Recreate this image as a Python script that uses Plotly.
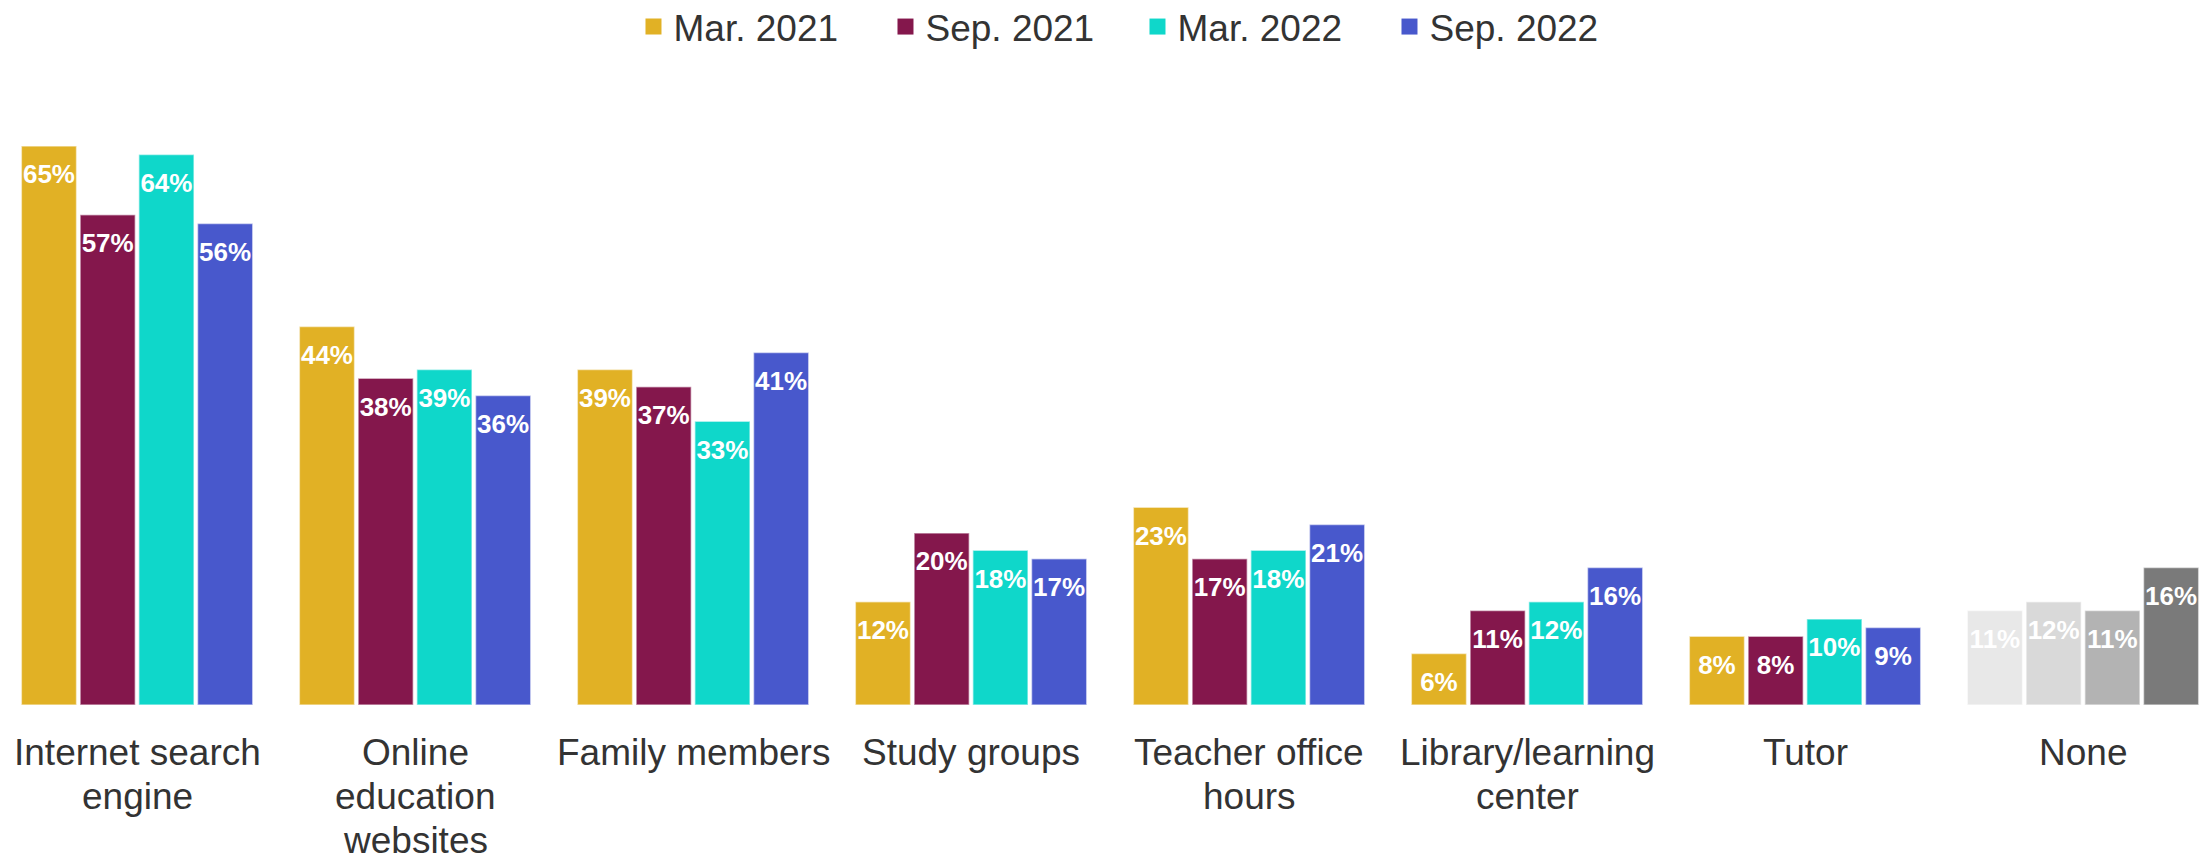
import plotly.graph_objects as go

categories = ["Internet search engine", "Online education websites", "Family members",
              "Study groups", "Teacher office hours", "Library/learning center", "Tutor", "None"]
tick_labels = ["Internet search<br>engine", "Online<br>education<br>websites", "Family members",
               "Study groups", "Teacher office<br>hours", "Library/learning<br>center", "Tutor", "None"]
series_names = ["Mar. 2021", "Sep. 2021", "Mar. 2022", "Sep. 2022"]
mar_2021 = [65, 44, 39, 12, 23, 6, 8, 11]
sep_2021 = [57, 38, 37, 20, 17, 11, 8, 12]
mar_2022 = [64, 39, 33, 18, 18, 12, 10, 11]
sep_2022 = [56, 36, 41, 17, 21, 16, 9, 16]
series_values = [mar_2021, sep_2021, mar_2022, sep_2022]
series_colors = ["#E1B125", "#84174C", "#0FD7CA", "#4858CC"]
none_colors = ["#E8E8E8", "#D9D9D9", "#B3B3B3", "#7A7A7A"]

FONT = "Liberation Sans, Arial, sans-serif"
TEXT_COLOR = "#333333"
BARGAP = 0.155

fig = go.Figure()
for i, (name, vals, col, ncol) in enumerate(zip(series_names, series_values, series_colors, none_colors)):
    colors = [col] * (len(categories) - 1) + [ncol]
    fig.add_trace(go.Bar(
        name=name,
        x=categories,
        y=vals,
        offsetgroup=str(i),
        marker=dict(color=colors, line=dict(color="rgba(255,255,255,0.55)", width=1.5)),
        showlegend=False,
        hoverinfo="x+y+name",
    ))

# value labels, aligned with the grouped bars
for i, (name, vals) in enumerate(zip(series_names, series_values)):
    fig.add_trace(go.Scatter(
        name=name,
        x=categories,
        y=vals,
        mode="markers+text",
        offsetgroup=str(i),
        alignmentgroup="labels",
        marker=dict(size=27, opacity=0, color="white"),
        text=[f"{v}%" for v in vals],
        textposition="bottom center",
        textfont=dict(family=FONT, size=26, color="white", weight="bold"),
        showlegend=False,
        hoverinfo="skip",
        cliponaxis=False,
    ))

# legend entries
for i, (name, col) in enumerate(zip(series_names, series_colors)):
    fig.add_trace(go.Scatter(
        name=name,
        x=[None], y=[None],
        mode="markers",
        offsetgroup=str(i),
        alignmentgroup="labels",
        marker=dict(symbol="square", size=18, color=col),
        showlegend=True,
    ))

annotations = []
for cat, lab in zip(categories, tick_labels):
    for j, line in enumerate(lab.split("<br>")):
        annotations.append(dict(
            x=cat, y=0, xref="x", yref="y",
            text=line, showarrow=False,
            xanchor="center", yanchor="middle",
            yshift=-(47 + 44 * j),
            font=dict(family=FONT, size=37, color=TEXT_COLOR),
        ))

fig.update_layout(
    width=2207, height=855,
    barmode="group",
    bargap=BARGAP,
    bargroupgap=0.06,
    scattermode="group",
    scattergap=BARGAP,
    paper_bgcolor="white",
    plot_bgcolor="white",
    margin=dict(l=0, r=0, t=103, b=150),
    font=dict(family=FONT, size=37, color=TEXT_COLOR),
    annotations=annotations,
    legend=dict(
        orientation="h",
        xref="container", yref="container",
        x=0.5154, xanchor="center",
        y=1 - 27 / 855, yanchor="middle",
        font=dict(family=FONT, size=37, color=TEXT_COLOR),
        entrywidth=207,
        itemclick=False,
        traceorder="normal",
    ),
    xaxis=dict(
        range=[-0.493, 7.446],
        showgrid=False, zeroline=False, showline=False,
        showticklabels=False, ticks="",
    ),
    yaxis=dict(
        range=[0, 70],
        showgrid=False, zeroline=False, showline=False, showticklabels=False,
    ),
)

fig.write_html(
    "out.html",
    config={"displayModeBar": False},
    post_script="document.body.style.margin='0';document.body.style.overflow='hidden';",
)
